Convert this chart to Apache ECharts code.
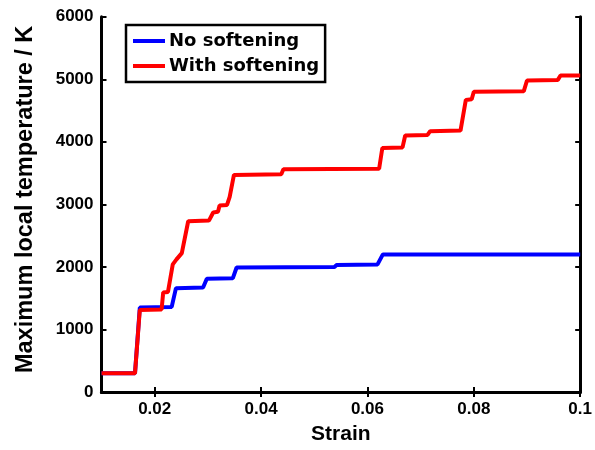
<!DOCTYPE html>
<html>
<head>
<meta charset="utf-8">
<script src="https://cdn.jsdelivr.net/npm/echarts@6/dist/echarts.min.js"></script>
<style>
  html, body { margin: 0; padding: 0; background: #fff; }
  #chart { width: 595px; height: 450px; }
</style>
</head>
<body>
<div id="chart"></div>
<script>
// strain / max local temperature (K)
const noSoftStrain = [0.010, 0.0163, 0.0172, 0.0232, 0.0240, 0.0291, 0.0298, 0.0347, 0.0354, 0.0538, 0.0542, 0.0619, 0.0629, 0.100]
const noSoftTemp   = [300,   300,    1350,   1360,   1660,   1670,   1810,   1820,   1990,   2000,   2030,   2040,   2200,   2200]

const withSoftStrain = [0.010, 0.0163, 0.0172, 0.0213, 0.0216, 0.0225, 0.0234, 0.0241, 0.0251, 0.0263,
                        0.0302, 0.0310, 0.0319, 0.0322, 0.0336, 0.0341, 0.0344, 0.0349, 0.0438, 0.0442,
                        0.0622, 0.0628, 0.0666, 0.0671, 0.0713, 0.0718, 0.0775, 0.0785, 0.0796, 0.0800,
                        0.0894, 0.0900, 0.0958, 0.0963, 0.100]
const withSoftTemp   = [300, 300, 1310, 1320, 1590, 1600, 2040, 2120, 2220, 2730,
                        2740, 2870, 2880, 2980, 2990, 3120, 3140, 3470, 3480, 3560,
                        3570, 3900, 3910, 4100, 4110, 4170, 4180, 4670, 4680, 4800,
                        4810, 4980, 4990, 5060, 5060]

const xTicks = [0.02, 0.04, 0.06, 0.08, 0.1]
const seriesNames = ['No softening', 'With softening']

const zip = (xs, ys) => xs.map((x, i) => [x, ys[i]])

const FONT = '"Liberation Sans", Arial, sans-serif'
const axisLine = { show: true, lineStyle: { color: '#000', width: 3 } }
const axisTick = { show: true, inside: true, length: 5, lineStyle: { color: '#000', width: 2 } }

const chart = echarts.init(document.getElementById('chart'), null, { renderer: 'canvas' })

chart.setOption({
  backgroundColor: '#fff',
  animation: false,
  grid: { left: 101.5, right: 14, top: 16.7, bottom: 55, containLabel: false },
  legend: {
    left: 126,
    top: 25,
    orient: 'vertical',
    data: seriesNames,
    icon: 'rect',
    itemWidth: 32,
    itemHeight: 4,
    itemGap: 7,
    padding: [7, 6, 7, 7],
    borderColor: '#000',
    borderWidth: 2.5,
    borderRadius: 0,
    backgroundColor: '#fff',
    textStyle: { fontFamily: '"DejaVu Sans", sans-serif', fontWeight: 'bold', fontSize: 18, lineHeight: 18, color: '#000', padding: [0, 0, 0, -1] },
  },
  xAxis: [
    {
      type: 'value',
      min: 0.01,
      max: 0.1,
      name: 'Strain',
      nameLocation: 'middle',
      nameGap: 32,
      nameTextStyle: { fontFamily: FONT, fontWeight: 'bold', fontSize: 21, color: '#000' },
      axisLine,
      axisTick: { ...axisTick, customValues: xTicks },
      axisLabel: {
        customValues: xTicks,
        fontFamily: FONT, fontWeight: 'bold', fontSize: 17, color: '#000', margin: 9,
        formatter: v => String(+v.toFixed(2)),
      },
      splitLine: { show: false },
    },
    {
      type: 'value',
      position: 'top',
      min: 0.01,
      max: 0.1,
      axisLine,
      axisTick: { ...axisTick, customValues: xTicks },
      axisLabel: { show: false },
      splitLine: { show: false },
    },
  ],
  yAxis: [
    {
      type: 'value',
      min: 0,
      max: 6000,
      interval: 1000,
      name: 'Maximum local temperature / K',
      nameLocation: 'middle',
      nameGap: 64,
      nameTextStyle: { fontFamily: FONT, fontWeight: 'bold', fontSize: 23.5, color: '#000', padding: [0, 0, 0, 10] },
      axisLine,
      axisTick,
      axisLabel: {
        fontFamily: FONT, fontWeight: 'bold', fontSize: 17, color: '#000', margin: 8, padding: [7, 0, 0, 0],
        formatter: v => String(v),
      },
      splitLine: { show: false },
    },
    {
      type: 'value',
      position: 'right',
      min: 0,
      max: 6000,
      interval: 1000,
      axisLine,
      axisTick,
      axisLabel: { show: false },
      splitLine: { show: false },
    },
  ],
  series: [
    {
      name: seriesNames[0],
      type: 'line',
      data: zip(noSoftStrain, noSoftTemp),
      showSymbol: false,
      color: '#0000ff',
      lineStyle: { color: '#0000ff', width: 4 },
      z: 2,
    },
    {
      name: seriesNames[1],
      type: 'line',
      data: zip(withSoftStrain, withSoftTemp),
      showSymbol: false,
      color: '#ff0000',
      lineStyle: { color: '#ff0000', width: 4 },
      z: 3,
    },
  ],
})
</script>
</body>
</html>
